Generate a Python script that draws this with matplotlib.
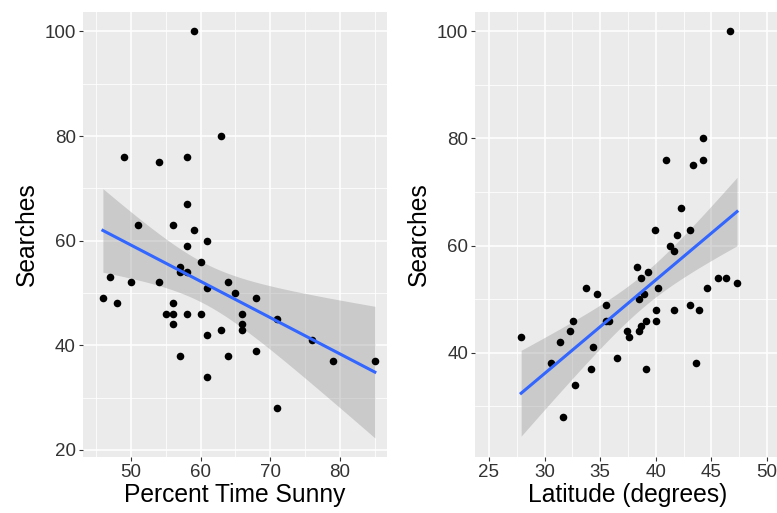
import numpy as np
import matplotlib
matplotlib.use("Agg")
import matplotlib.pyplot as plt
from matplotlib.ticker import MultipleLocator

# left panel: percent time sunny vs searches
sunny = [59, 63, 49, 54, 58, 58, 51, 56, 59, 61, 58,
         57, 57, 58, 60, 50, 54, 61, 64, 65, 68, 71,
         47, 46, 48, 56, 55, 56, 58, 60, 66, 56, 66, 66,
         63, 61, 57, 64, 68, 61, 71, 76, 79, 85]
sunny_searches = [100, 80, 76, 75, 76, 67, 63, 63, 62, 60, 59,
                  55, 54, 54, 56, 52, 52, 51, 52, 50, 49, 45,
                  53, 49, 48, 48, 46, 46, 46, 46, 46, 44, 44, 43,
                  43, 42, 38, 38, 39, 34, 28, 41, 37, 37]

# right panel: latitude vs searches
latitude = [46.7, 44.2, 40.9, 43.3, 44.2, 42.3, 39.9, 43.1, 41.9, 41.3, 41.6,
            38.3, 39.3, 38.7, 40.2, 38.9, 38.5, 33.7, 34.7, 35.5, 35.5, 35.8,
            40.05, 40.05, 39.1, 38.7, 38.5, 37.4, 37.6, 41.6, 43.1, 43.9,
            44.6, 45.6, 46.3, 47.3, 32.6, 32.3, 31.4, 27.9, 30.6, 34.4,
            36.5, 34.2, 39.1, 43.6, 32.7, 31.7]
lat_searches = [100, 80, 76, 75, 76, 67, 63, 63, 62, 60, 59,
                56, 55, 54, 52, 51, 50, 52, 51, 49, 46, 46,
                48, 46, 46, 45, 44, 44, 43, 48, 49, 48,
                52, 54, 54, 53, 46, 44, 42, 43, 38, 41,
                39, 37, 37, 38, 34, 28]

plt.rcParams["font.family"] = ["Liberation Sans", "DejaVu Sans"]

BG = "#EBEBEB"
T_CRIT = 2.02


def lm_band(x, y):
    x = np.asarray(x, float)
    y = np.asarray(y, float)
    n = len(x)
    slope, intercept = np.polyfit(x, y, 1)
    resid = y - (slope * x + intercept)
    s = np.sqrt(np.sum(resid ** 2) / (n - 2))
    sxx = np.sum((x - x.mean()) ** 2)
    xs = np.linspace(x.min(), x.max(), 80)
    fit = slope * xs + intercept
    se = s * np.sqrt(1 / n + (xs - x.mean()) ** 2 / sxx)
    return xs, fit, fit - T_CRIT * se, fit + T_CRIT * se


def style(ax, xmajor, xminor):
    ax.set_facecolor(BG)
    for sp in ax.spines.values():
        sp.set_visible(False)
    ax.xaxis.set_major_locator(MultipleLocator(xmajor))
    ax.xaxis.set_minor_locator(MultipleLocator(xminor))
    ax.yaxis.set_major_locator(MultipleLocator(20))
    ax.yaxis.set_minor_locator(MultipleLocator(10))
    ax.grid(which="major", color="white", linewidth=1.1)
    ax.grid(which="minor", color="white", linewidth=0.55)
    ax.set_axisbelow(True)
    ax.tick_params(which="major", length=3, width=0.8, color="#333333",
                   labelsize=13.5, labelcolor="#333333", pad=2)
    ax.tick_params(which="minor", length=0)


def panel(ax, x, y, xlabel):
    xs, fit, lo, hi = lm_band(x, y)
    ax.fill_between(xs, lo, hi, color="#999999", alpha=0.4, linewidth=0, zorder=2)
    ax.scatter(x, y, s=30, color="black", linewidths=0, zorder=3)
    ax.plot(xs, fit, color="#3366FF", linewidth=2.2, zorder=4)
    ax.set_xlabel(xlabel, fontsize=17.7, labelpad=2)
    ax.set_ylabel("Searches", fontsize=17.7, labelpad=4)


fig = plt.figure(figsize=(7.77, 5.13), dpi=100)

ax1 = fig.add_axes([0.1064, 0.1097, 0.3913, 0.8669])
style(ax1, 10, 5)
panel(ax1, sunny, sunny_searches, "Percent Time Sunny")
ax1.set_xlim(43.1, 86.7)
ax1.set_ylim(18.7, 103.7)

ax2 = fig.add_axes([0.6113, 0.1097, 0.3938, 0.8669])
style(ax2, 5, 2.5)
panel(ax2, latitude, lat_searches, "Latitude (degrees)")
ax2.set_xlim(23.75, 51.25)
ax2.set_ylim(20.6, 103.6)

fig.savefig("out.png", dpi=100)
